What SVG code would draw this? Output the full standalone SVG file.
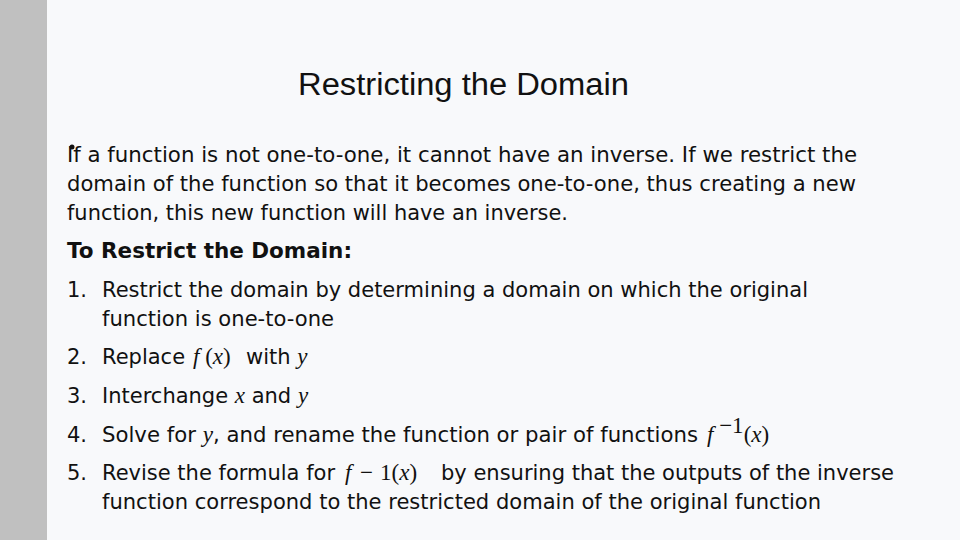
<svg xmlns="http://www.w3.org/2000/svg" width="960" height="540" viewBox="0 0 960 540">
<style>
.t{font-family:"DejaVu Sans","Liberation Sans",sans-serif;font-size:21px;fill:#111}
.b{font-weight:bold}
.m{font-family:"Liberation Serif",serif;font-style:italic;font-size:23px}
.n{font-family:"Liberation Serif",serif;font-size:23px}
</style>
<rect width="960" height="540" fill="#f8f9fb"/>
<rect width="47" height="540" fill="#c0c0c0"/>
<text x="298" y="95" font-family="Liberation Sans,sans-serif" font-size="31" fill="#111" textLength="331" lengthAdjust="spacingAndGlyphs">Restricting the Domain</text>
<circle cx="72" cy="147" r="2.5" fill="#111"/>
<text class="t" x="67" y="162" textLength="790" lengthAdjust="spacingAndGlyphs">If a function is not one-to-one, it cannot have an inverse. If we restrict the</text>
<text class="t" x="67" y="191" textLength="789" lengthAdjust="spacingAndGlyphs">domain of the function so that it becomes one-to-one, thus creating a new</text>
<text class="t" x="67" y="220" textLength="501" lengthAdjust="spacingAndGlyphs">function, this new function will have an inverse.</text>
<text class="t b" x="67" y="258" textLength="285" lengthAdjust="spacingAndGlyphs">To Restrict the Domain:</text>
<text class="t" x="67" y="297">1.</text>
<text class="t" x="102" y="297" textLength="706" lengthAdjust="spacingAndGlyphs">Restrict the domain by determining a domain on which the original</text>
<text class="t" x="102" y="326" textLength="232" lengthAdjust="spacingAndGlyphs">function is one-to-one</text>
<text class="t" x="67" y="364">2.</text>
<text class="t" x="102" y="364">Replace <tspan class="m" x="193">f</tspan><tspan class="n"> (</tspan><tspan class="m">x</tspan><tspan class="n">)</tspan><tspan x="246">with</tspan> <tspan class="m">y</tspan></text>
<text class="t" x="67" y="403">3.</text>
<text class="t" x="102" y="403">Interchange <tspan class="m">x</tspan> and <tspan class="m">y</tspan></text>
<text class="t" x="67" y="442">4.</text>
<text class="t" x="102" y="442"><tspan textLength="596" lengthAdjust="spacingAndGlyphs">Solve for <tspan class="m">y</tspan>, and rename the function or pair of functions</tspan> <tspan class="m" x="707">f</tspan><tspan class="n" font-size="16" dy="-9"> −1</tspan><tspan class="n" dy="9">(</tspan><tspan class="m">x</tspan><tspan class="n">)</tspan></text>
<text class="t" x="67" y="480">5.</text>
<text class="t" x="102" y="480">Revise the formula for <tspan class="m" x="345">f</tspan><tspan class="n" x="360">−</tspan><tspan class="n" x="380">1(</tspan><tspan class="m">x</tspan><tspan class="n">)</tspan><tspan x="441" textLength="453" lengthAdjust="spacingAndGlyphs">by ensuring that the outputs of the inverse</tspan></text>
<text class="t" x="102" y="509" textLength="719" lengthAdjust="spacingAndGlyphs">function correspond to the restricted domain of the original function</text>
</svg>
